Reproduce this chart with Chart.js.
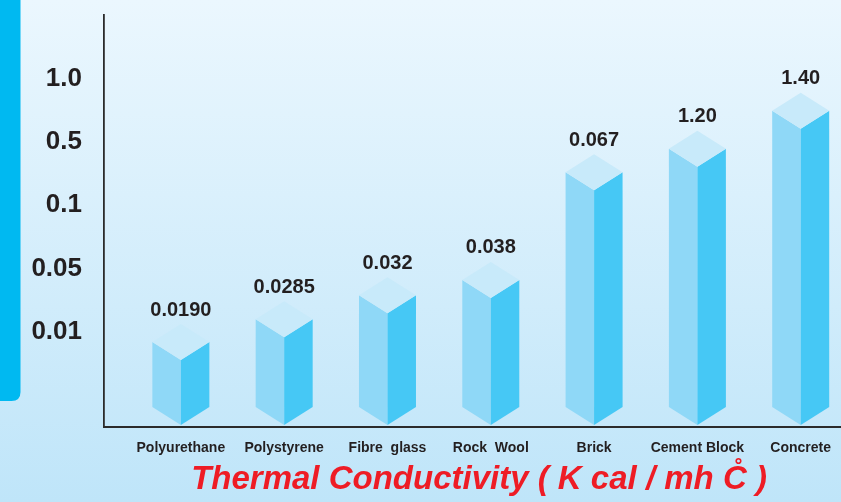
<!DOCTYPE html>
<html>
<head>
<meta charset="utf-8">
<script src="https://cdn.jsdelivr.net/npm/chart.js@4.4.0/dist/chart.umd.min.js"></script>
<style>
  html, body { margin: 0; padding: 0; background: #d6eefb; }
  #wrap { width: 841px; height: 502px; position: relative; }
</style>
</head>
<body>
<div id="wrap"><canvas id="c" width="841" height="502"></canvas></div>
<script>
// ---- data ----
const categories = ['Polyurethane', 'Polystyrene', 'Fibre  glass', 'Rock  Wool', 'Brick', 'Cement Block', 'Concrete'];
// bar heights on the chart's (non-uniform) y axis, in tick-step units
const barLevels = [1.34, 1.70, 2.08, 2.32, 4.02, 4.39, 4.99];
const valueLabels = ['0.0190', '0.0285', '0.032', '0.038', '0.067', '1.20', '1.40'];
const tickLevels = [1.5, 2.5, 3.5, 4.5, 5.5];
const tickLabels = ['0.01', '0.05', '0.1', '0.5', '1.0'];
const axisTitle = 'Thermal Conductivity ( K cal / mh C\u030A )';

const FONT = '"Liberation Sans", Arial, Helvetica, sans-serif';

const bgPlugin = {
  id: 'bg',
  beforeDraw(chart) {
    const ctx = chart.ctx;
    const w = chart.width, h = chart.height;
    ctx.save();
    const g = ctx.createLinearGradient(0, 0, 0, h);
    g.addColorStop(0, '#ebf7fe');
    g.addColorStop(1, '#bfe5f9');
    ctx.fillStyle = g;
    ctx.fillRect(0, 0, w, h);
    // left cyan stripe
    ctx.fillStyle = '#00b9f1';
    const r = 9, sw = 20.5, sh = 401;
    ctx.beginPath();
    ctx.moveTo(0, 0);
    ctx.lineTo(sw, 0);
    ctx.lineTo(sw, sh - r);
    ctx.quadraticCurveTo(sw, sh, sw - r, sh);
    ctx.lineTo(0, sh);
    ctx.closePath();
    ctx.fill();
    ctx.restore();
  }
};

const prismPlugin = {
  id: 'prism',
  afterDatasetsDraw(chart) {
    const ctx = chart.ctx;
    const meta = chart.getDatasetMeta(0);
    const half = 28.5, rh = 18;
    ctx.save();
    meta.data.forEach((el, i) => {
      const cx = el.x, yc = el.y;
      const bot = el.base - 2;
      const l = cx - half, r = cx + half;
      ctx.fillStyle = '#8fd8f7';
      ctx.beginPath();
      ctx.moveTo(l, yc);
      ctx.lineTo(cx, yc + rh);
      ctx.lineTo(cx, bot);
      ctx.lineTo(l, bot - rh);
      ctx.closePath();
      ctx.fill();
      ctx.fillStyle = '#46c8f5';
      ctx.beginPath();
      ctx.moveTo(cx, yc + rh);
      ctx.lineTo(r, yc);
      ctx.lineTo(r, bot - rh);
      ctx.lineTo(cx, bot);
      ctx.closePath();
      ctx.fill();
      ctx.fillStyle = '#c8eafa';
      ctx.beginPath();
      ctx.moveTo(l, yc);
      ctx.lineTo(cx, yc - rh);
      ctx.lineTo(r, yc);
      ctx.lineTo(cx, yc + rh);
      ctx.closePath();
      ctx.fill();
      ctx.fillStyle = '#231f20';
      ctx.font = 'bold 20px ' + FONT;
      ctx.textAlign = 'center';
      ctx.textBaseline = 'middle';
      ctx.fillText(valueLabels[i], cx, yc - 32);
    });
    ctx.restore();
  }
};

const titlePlugin = {
  id: 'axisTitle',
  afterDraw(chart) {
    const ctx = chart.ctx;
    ctx.save();
    ctx.fillStyle = '#ee1c25';
    ctx.font = 'italic bold 33px ' + FONT;
    ctx.textAlign = 'center';
    ctx.textBaseline = 'alphabetic';
    ctx.fillText(axisTitle, 479, 489);
    ctx.restore();
  }
};

new Chart(document.getElementById('c'), {
  type: 'bar',
  data: {
    datasets: [{
      data: categories.map((c, i) => ({ x: i, y: barLevels[i] })),
      backgroundColor: 'rgba(0,0,0,0)',
      borderWidth: 0,
      barThickness: 57
    }]
  },
  options: {
    responsive: false,
    animation: false,
    events: [],
    layout: { padding: { top: 15, left: 0, right: 0, bottom: 0 } },
    plugins: { legend: { display: false }, tooltip: { enabled: false }, title: { display: false } },
    scales: {
      x: {
        type: 'linear',
        offset: false,
        min: -0.744,
        max: 6.39,
        afterFit(scale) { scale.height = 75; scale.paddingLeft = 0; scale.paddingRight = 0; },
        afterBuildTicks(scale) { scale.ticks = categories.map((c, i) => ({ value: i })); },
        grid: { display: false, drawTicks: false, offset: false },
        border: { display: true, color: '#2b2b2b', width: 2 },
        ticks: {
          padding: 13,
          autoSkip: false,
          maxRotation: 0,
          color: '#231f20',
          font: { family: FONT, size: 14, weight: 'bold' },
          callback: (v) => categories[v]
        }
      },
      y: {
        type: 'linear',
        min: 0,
        max: 6.5,
        afterFit(scale) { scale.width = 104; scale.paddingTop = 0; scale.paddingBottom = 0; },
        afterBuildTicks(scale) { scale.ticks = tickLevels.map(v => ({ value: v })); },
        grid: { display: false, drawTicks: false },
        border: { display: true, color: '#2b2b2b', width: 1.8 },
        ticks: {
          padding: 22,
          color: '#231f20',
          font: { family: FONT, size: 26, weight: 'bold' },
          callback: (v) => tickLabels[tickLevels.indexOf(v)]
        }
      }
    }
  },
  plugins: [bgPlugin, prismPlugin, titlePlugin]
});
</script>
</body>
</html>
